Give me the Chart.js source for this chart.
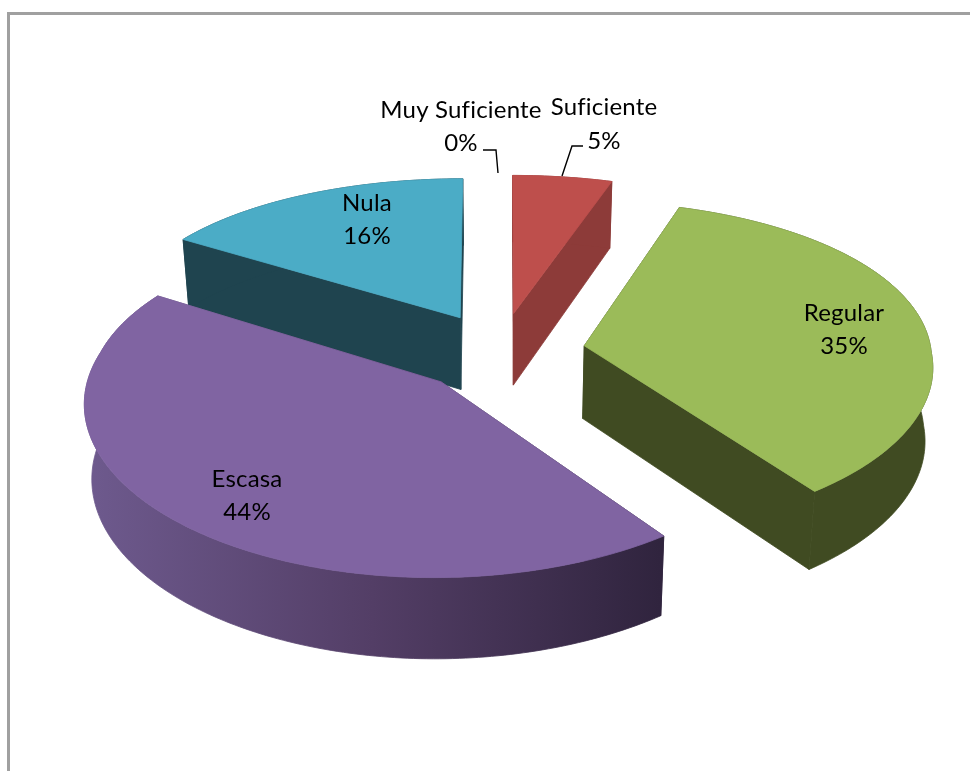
<!DOCTYPE html>
<html lang="es">
<head>
<meta charset="utf-8">
<title>Pie 3D</title>
<style>html,body{margin:0;padding:0;background:#fff}canvas{display:block}</style>
<script src="https://cdn.jsdelivr.net/npm/chart.js@4/dist/chart.umd.min.js"></script>
</head>
<body>
<canvas id="c" width="970" height="771"></canvas>
<script>
const categories = ['Muy Suficiente', 'Suficiente', 'Regular', 'Escasa', 'Nula'];
const values = [0, 5, 35, 44, 16];
const topColors = ['#4F81BD', '#BE4F4C', '#9BBB59', '#8064A2', '#4BACC6'];
const wallColors = ['#2A4564', '#8D3B39', '#404B22', null, '#1F444F'];

// styling / layout (not data)
const labelAnchors = [[461, 110, 143], [604, 107, 141], [844, 313, 346], [247, 479, 512], [367, 203, 236]];
const drawOrder = [4, 1, 2, 3];
const view = {explode: 85, yScale: 0.472, perspY: 2835, perspBack: 5000, perspFront: 3200, depth: 73, shrink: 0.018};

function project(cx, cy, px, py, z) {
  const wx = 1 - py / (py > 0 ? view.perspFront : view.perspBack);
  const wy = 1 - py / view.perspY;
  const sc = 1 - view.shrink * z;
  return [cx + px / wx * sc, cy + view.yScale * py / wy * sc + z * view.depth / wy];
}

const pie3d = {
  id: 'pie3d',
  beforeDraw(chart) {
    const ctx = chart.ctx;
    ctx.save();
    ctx.strokeStyle = '#a0a0a0';
    ctx.lineWidth = 3;
    ctx.beginPath();
    ctx.moveTo(8.5, 771);
    ctx.lineTo(8.5, 13.5);
    ctx.lineTo(970, 13.5);
    ctx.stroke();
    ctx.restore();
  },
  beforeDatasetDraw(chart) {
    const ctx = chart.ctx;
    const arcs = chart.getDatasetMeta(0).data;
    ctx.save();
    const grad = ctx.createLinearGradient(85, 0, 660, 0);
    grad.addColorStop(0, '#6E5A8E');
    grad.addColorStop(0.5, '#533E66');
    grad.addColorStop(1, '#30243E');
    for (const i of drawOrder) {
      const el = arcs[i];
      const {x, y, startAngle, endAngle, outerRadius: R} = el.getProps(['x', 'y', 'startAngle', 'endAngle', 'outerRadius'], true);
      const mid = (startAngle + endAngle) / 2;
      const ox = Math.cos(mid) * view.explode;
      const oy = Math.sin(mid) * view.explode;
      const steps = Math.max(8, Math.ceil((endAngle - startAngle) * 60));
      const rim = [];
      for (let k = 0; k <= steps; k++) {
        const a = startAngle + (endAngle - startAngle) * k / steps;
        rim.push([ox + R * Math.cos(a), oy + R * Math.sin(a)]);
      }
      const P = (p, z) => project(x, y, p[0], p[1], z);
      const fillPoly = pts => {
        ctx.beginPath();
        pts.forEach((p, n) => n ? ctx.lineTo(p[0], p[1]) : ctx.moveTo(p[0], p[1]));
        ctx.closePath();
        ctx.fill();
        ctx.stroke();
      };
      const apex = [ox, oy];
      ctx.fillStyle = wallColors[i] || grad;
      ctx.strokeStyle = wallColors[i] || grad;
      ctx.lineWidth = 0.8;
      fillPoly([P(apex, 0), P(rim[0], 0), P(rim[0], 1), P(apex, 1)]);
      fillPoly([P(apex, 0), P(rim[steps], 0), P(rim[steps], 1), P(apex, 1)]);
      fillPoly(rim.map(p => P(p, 0)).concat(rim.slice().reverse().map(p => P(p, 1))));
      ctx.fillStyle = topColors[i];
      ctx.strokeStyle = topColors[i];
      fillPoly([P(apex, 0)].concat(rim.map(p => P(p, 0))));
    }
    ctx.restore();
    return false;
  },
  afterDatasetsDraw(chart) {
    const ctx = chart.ctx;
    const total = values.reduce((a, b) => a + b, 0);
    ctx.save();
    ctx.strokeStyle = '#000';
    ctx.lineWidth = 1.4;
    ctx.beginPath();
    ctx.moveTo(483, 150); ctx.lineTo(496, 150); ctx.lineTo(498, 173);
    ctx.moveTo(583, 146); ctx.lineTo(572, 146); ctx.lineTo(562, 176);
    ctx.stroke();
    ctx.fillStyle = '#000';
    ctx.font = '24px Lato';
    ctx.letterSpacing = '0.2px';
    ctx.textAlign = 'center';
    ctx.textBaseline = 'middle';
    categories.forEach((name, i) => {
      const [lx, y1, y2] = labelAnchors[i];
      ctx.fillText(name, lx, y1);
      ctx.fillText(Math.round(values[i] / total * 100) + '%', lx, y2);
    });
    ctx.restore();
  }
};

new Chart(document.getElementById('c'), {
  type: 'pie',
  data: {labels: categories, datasets: [{data: values, backgroundColor: topColors, borderWidth: 0}]},
  options: {
    responsive: false,
    animation: false,
    radius: 347,
    layout: {padding: {left: 31, right: 0, top: 0, bottom: 67}},
    plugins: {legend: {display: false}, tooltip: {enabled: false}}
  },
  plugins: [pie3d]
});
</script>
</body>
</html>
